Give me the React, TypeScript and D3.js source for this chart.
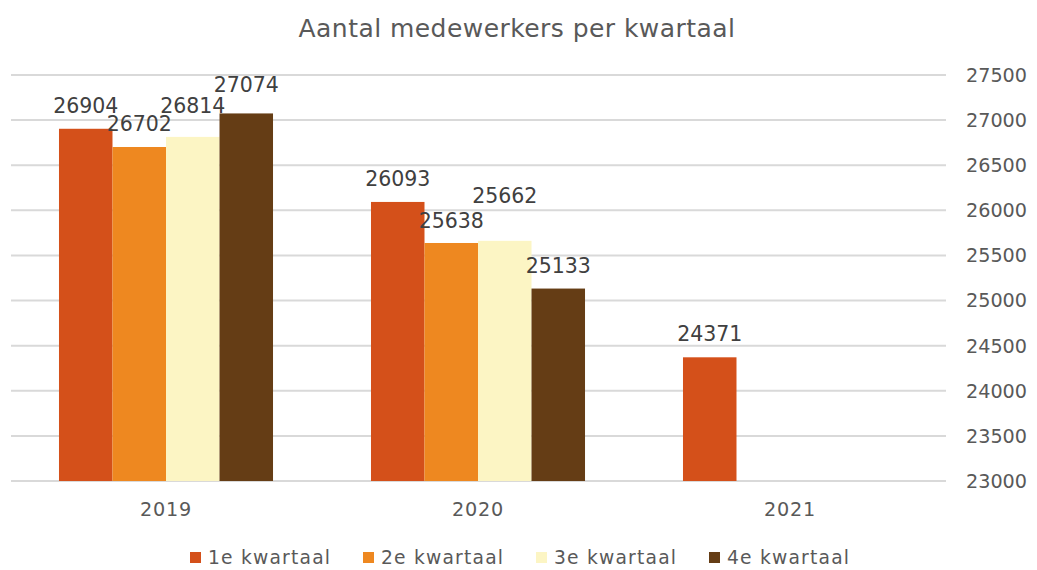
import React, { useEffect, useRef } from 'react';
import * as d3 from 'd3';

// jaren en kwartalen
const years = ['2019', '2020', '2021'];
const quarters = ['1e kwartaal', '2e kwartaal', '3e kwartaal', '4e kwartaal'];

// aantal medewerkers per kwartaal (null = nog geen cijfer)
const q1 = [26904, 26093, 24371];
const q2 = [26702, 25638, null];
const q3 = [26814, 25662, null];
const q4 = [27074, 25133, null];

// extra ophoging van labels die in Excel handmatig verschoven zijn
const labelLift1 = [0, 0, 0];
const labelLift2 = [0, -1, 0];
const labelLift3 = [8, 22, 0];
const labelLift4 = [5, 0, 0];

const colors = ['#D4501A', '#EE8820', '#FCF5C4', '#653D15'];
const yTicks = d3.range(23000, 27501, 500);

const W = 1037, H = 570;
const FONT = "Verdana, 'DejaVu Sans', sans-serif";

const App = () => {
    const ref = useRef<SVGSVGElement>(null);

    useEffect(() => {
        const series = [q1, q2, q3, q4];
        const lifts = [labelLift1, labelLift2, labelLift3, labelLift4];
        const svg = d3.select(ref.current);
        svg.selectAll('*').remove();

        // x schaal: jaren, binnen elk jaar de kwartalen
        const bandOf = d3.scaleBand().domain(years).range([10, 946]);
        const groupW = bandOf.bandwidth() * 0.686;
        const x1 = d3.scaleBand().domain(quarters).range([0, groupW]);

        // y schaal
        const y = d3.scaleLinear().domain([23000, 27500]).range([481, 75]);

        // titel
        svg.append('text')
            .attr('x', 517)
            .attr('y', 37)
            .attr('text-anchor', 'middle')
            .attr('font-size', 25)
            .attr('letter-spacing', 0.45)
            .attr('fill', '#595959')
            .text('Aantal medewerkers per kwartaal');

        // rasterlijnen
        svg.append('g')
            .selectAll('line')
            .data(yTicks)
            .enter()
            .append('line')
            .attr('x1', 11)
            .attr('x2', 946)
            .attr('y1', d => y(d))
            .attr('y2', d => y(d))
            .attr('stroke', '#D9D9D9')
            .attr('stroke-width', 2);

        // y-as rechts
        svg.append('g')
            .selectAll('text')
            .data(yTicks)
            .enter()
            .append('text')
            .attr('x', 966)
            .attr('y', d => y(d))
            .attr('dy', '0.36em')
            .attr('font-size', 19.2)
            .attr('fill', '#595959')
            .text(d => d);

        // x-as labels
        svg.append('g')
            .selectAll('text')
            .data(years)
            .enter()
            .append('text')
            .attr('x', d => (bandOf(d) as number) + bandOf.bandwidth() / 2)
            .attr('y', 516)
            .attr('text-anchor', 'middle')
            .attr('font-size', 19.2)
            .attr('letter-spacing', 0.8)
            .attr('fill', '#595959')
            .text(d => d);

        // staven
        series.forEach((vals, si) => {
            const rows = years.map((yr, i) => ({ yr, v: vals[i], lift: lifts[si][i] }))
                .filter(r => r.v !== null) as { yr: string, v: number, lift: number }[];
            const g = svg.append('g');
            const gx = (r: { yr: string }) =>
                (bandOf(r.yr) as number) + (bandOf.bandwidth() - groupW) / 2 + (x1(quarters[si]) as number);

            g.selectAll('rect')
                .data(rows)
                .enter()
                .append('rect')
                .attr('x', gx)
                .attr('width', x1.bandwidth())
                .attr('y', r => y(r.v))
                .attr('height', r => 481 - y(r.v))
                .attr('fill', colors[si]);

            g.selectAll('text')
                .data(rows)
                .enter()
                .append('text')
                .attr('x', r => gx(r) + x1.bandwidth() / 2)
                .attr('y', r => y(r.v) - 16 - r.lift)
                .attr('text-anchor', 'middle')
                .attr('font-size', 20.5)
                .attr('fill', '#404040')
                .text(r => r.v);
        });

        // legenda
        const legend = svg.append('g');
        const lx = [190, 363, 536, 709];
        quarters.forEach((q, i) => {
            legend.append('rect')
                .attr('x', lx[i])
                .attr('y', 552)
                .attr('width', 11)
                .attr('height', 11)
                .attr('fill', colors[i]);
            legend.append('text')
                .attr('x', lx[i] + 18)
                .attr('y', 564)
                .attr('font-size', 18.7)
                .attr('letter-spacing', 1.2)
                .attr('fill', '#595959')
                .text(q);
        });
    }, []);

    return (
        <svg ref={ref} width={W} height={H} fontFamily={FONT}
             style={{ position: 'absolute', left: 0, top: 0, background: '#fff' }} />
    );
};

export default App;
